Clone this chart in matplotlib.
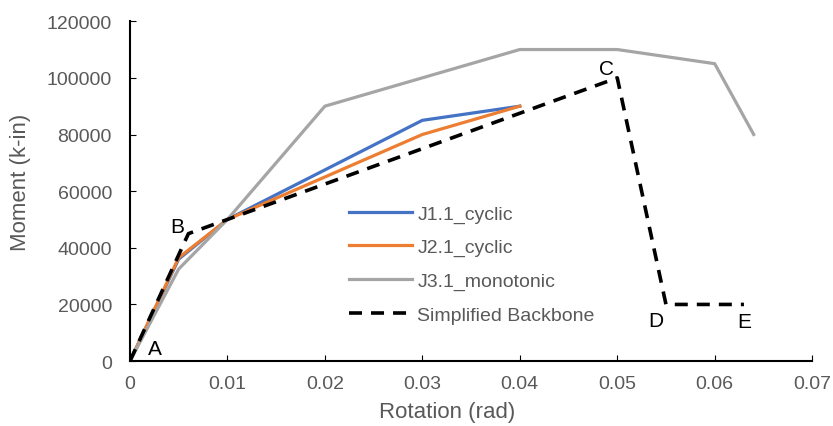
import matplotlib
matplotlib.use("Agg")
import matplotlib.pyplot as plt

# data
rot_j1 = [0, 0.005, 0.01, 0.02, 0.03, 0.04]
mom_j1 = [0, 36000, 50000, 67500, 85000, 90000]
rot_j2 = [0, 0.005, 0.01, 0.02, 0.03, 0.04]
mom_j2 = [0, 36500, 50000, 65000, 80000, 90000]
rot_j3 = [0, 0.005, 0.01, 0.02, 0.03, 0.04, 0.05, 0.06, 0.064]
mom_j3 = [0, 32500, 50000, 90000, 100000, 110000, 110000, 105000, 80000]
rot_bb = [0, 0.006, 0.01, 0.05, 0.055, 0.063]
mom_bb = [0, 45000, 50000, 100000, 20000, 20000]

pt_labels = ["A", "B", "C", "D", "E"]
pt_x = [0.0018, 0.0041, 0.0481, 0.0532, 0.0623]
pt_y = [2500, 45500, 101500, 12500, 12000]

plt.rcParams['font.family'] = ['Liberation Sans', 'DejaVu Sans']

fig = plt.figure(figsize=(8.33, 4.27), dpi=100)
ax = fig.add_axes([0.156, 0.152, 0.819, 0.796])

ax.plot(rot_j1, mom_j1, color='#4472C4', lw=2.3, label='J1.1_cyclic')
ax.plot(rot_j2, mom_j2, color='#ED7D31', lw=2.3, label='J2.1_cyclic')
ax.plot(rot_j3, mom_j3, color='#A5A5A5', lw=2.3, label='J3.1_monotonic')
ax.plot(rot_bb, mom_bb, color='black', lw=2.6, ls=(0, (3.6, 2.5)), label='Simplified Backbone')

for lab, x, y in zip(pt_labels, pt_x, pt_y):
    ax.text(x, y, lab, fontsize=15, color='black')

ax.set_xlim(0, 0.07)
ax.set_ylim(0, 120000)
ax.set_xticks([0, 0.01, 0.02, 0.03, 0.04, 0.05, 0.06, 0.07])
ax.set_xticklabels(['0', '0.01', '0.02', '0.03', '0.04', '0.05', '0.06', '0.07'])
ax.set_yticks(range(0, 120001, 20000))
ax.tick_params(direction='in', length=4, colors='black', labelcolor='#595959', labelsize=14)
ax.tick_params(axis='y', pad=13)
ax.tick_params(axis='x', pad=10)
for s in ['top', 'right']:
    ax.spines[s].set_visible(False)
for s in ['left', 'bottom']:
    ax.spines[s].set_linewidth(1.5)

ax.set_xlabel('Rotation (rad)', fontsize=16, color='#595959', va='center')
ax.set_ylabel('Moment (k-in)', fontsize=16, color='#595959', va='center')
ax.xaxis.set_label_coords(0.465, -0.147)
ax.yaxis.set_label_coords(-0.161, 0.53)

ax.legend(loc='center left', bbox_to_anchor=(0.296, 0.285), frameon=False, fontsize=14,
          labelcolor='#595959', handlelength=3.2, handletextpad=0.3, labelspacing=0.82)

fig.savefig('out.png', dpi=100)
